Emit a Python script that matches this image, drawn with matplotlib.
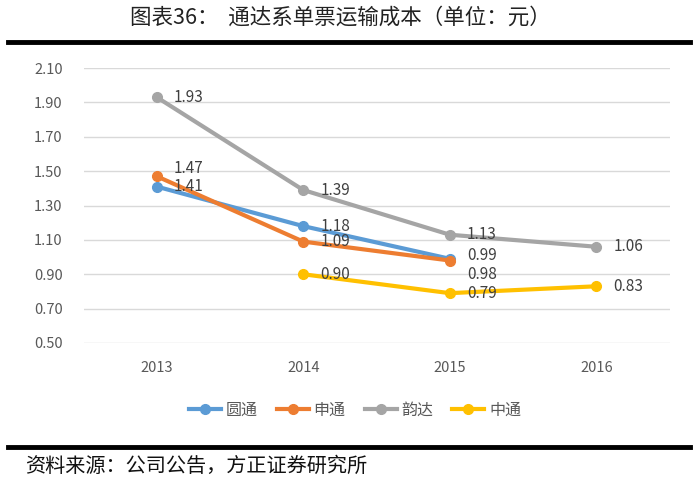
import numpy as np
import matplotlib
matplotlib.use('Agg')
import matplotlib.pyplot as plt
from matplotlib.lines import Line2D

plt.rcParams['font.family'] = ['Noto Sans CJK SC', 'DejaVu Sans']

years = ['2013', '2014', '2015', '2016']
yto = [1.41, 1.18, 0.99, np.nan]      # 圆通
sto = [1.47, 1.09, 0.98, np.nan]      # 申通
yunda = [1.93, 1.39, 1.13, 1.06]      # 韵达
zto = [np.nan, 0.90, 0.79, 0.83]      # 中通
names = ['圆通', '申通', '韵达', '中通']
yticks = [0.50, 0.70, 0.90, 1.10, 1.30, 1.50, 1.70, 1.90, 2.10]

colors = ['#5B9BD5', '#ED7D31', '#A5A5A5', '#FFC000']
# vertical pixel nudges for data labels (to avoid overlap)
nudges = [
    [0, 0, 3, 0],
    [8, 0, -14, 0],
    [0, 0, 0, 0],
    [0, 0, 0, 0],
]

fig = plt.figure(figsize=(7, 4.84), dpi=100)
ax = fig.add_axes([83.5 / 700, 1 - 343 / 484, 586 / 700, 275 / 484])

x = np.arange(len(years))
series = [yto, sto, yunda, zto]
for vals, c, name, nd in zip(series, colors, names, nudges):
    ax.plot(x, vals, color=c, lw=3, marker='o', ms=7, label=name, zorder=3)
    for xi, v, dy in zip(x, vals, nd):
        if np.isnan(v):
            continue
        ax.annotate(f'{v:.2f}', (xi, v), xytext=(17, dy), textcoords='offset pixels',
                    ha='left', va='center', fontsize=11, color='#404040', zorder=4)

ax.set_xlim(-0.5, 3.5)
ax.set_ylim(0.5, 2.1)
ax.set_yticks(yticks)
ax.set_yticklabels([f'{t:.2f}' for t in yticks])
ax.set_xticks(x)
ax.set_xticklabels(years)
ax.tick_params(length=0, labelsize=10.5, colors='#595959')
ax.tick_params(axis='y', pad=15)
ax.tick_params(axis='x', pad=13)
ax.grid(axis='y', color='#D9D9D9', lw=1)
ax.set_axisbelow(True)
for s in ax.spines.values():
    s.set_visible(False)

handles = [Line2D([0], [0], color=c, lw=3, marker='o', ms=7) for c in colors]
fig.legend(handles, names, loc='center', bbox_to_anchor=(355 / 700, 1 - 410 / 484),
           ncol=4, frameon=False, fontsize=11.5, handlelength=2.0, columnspacing=1.2,
           handletextpad=0.3, labelcolor='#595959')

fig.text(340 / 700, 1 - 18 / 484, '图表36：  通达系单票运输成本（单位：元）',
         ha='center', va='center', fontsize=15.5, color='#222222')
fig.add_artist(Line2D([8 / 700, 690 / 700], [1 - 42 / 484, 1 - 42 / 484],
                      color='black', lw=3.5, transform=fig.transFigure))
fig.add_artist(Line2D([8 / 700, 690 / 700], [1 - 447 / 484, 1 - 447 / 484],
                      color='black', lw=3.5, transform=fig.transFigure))
fig.text(25 / 700, 1 - 466 / 484, '资料来源：公司公告，方正证券研究所',
         ha='left', va='center', fontsize=14.5, style='italic', color='#111111')

fig.savefig('out.png', dpi=100)
